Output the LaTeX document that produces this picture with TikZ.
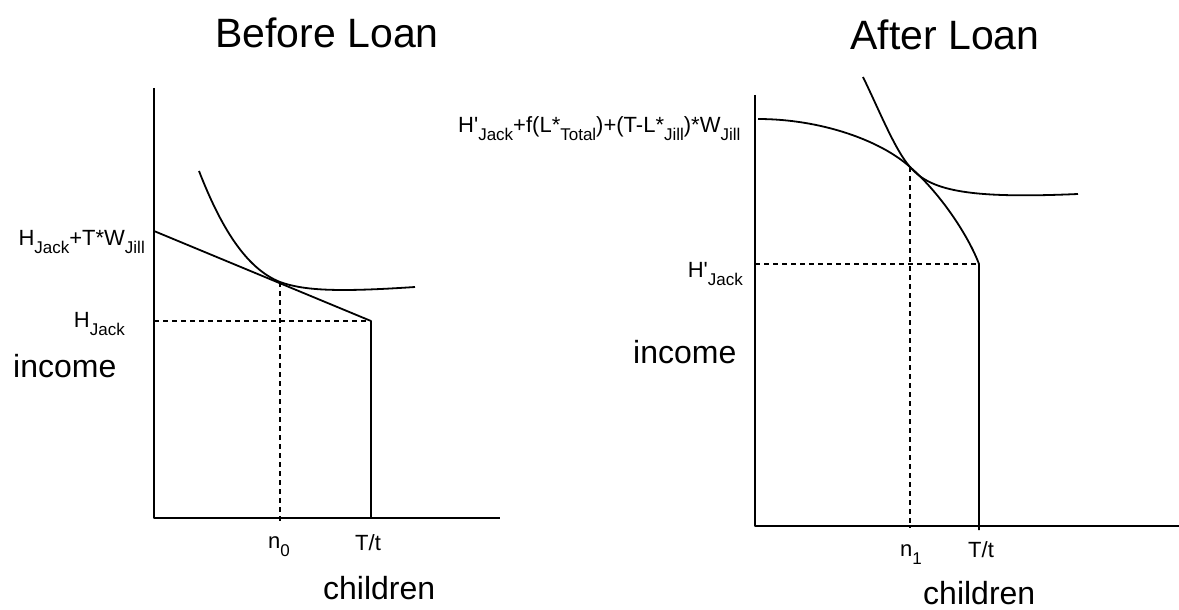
\documentclass[tikz,border=0pt]{standalone}
\usepackage{fontspec}
\setmainfont{Liberation Sans}[Ligatures=TeXOff]
\newcommand\lsub[2][17]{\raisebox{-0.38em}{\fontsize{#1}{#1}\selectfont #2}}
\tikzset{
  ln/.style={line width=1.8pt, line join=round},
  dsh/.style={line width=1.5pt, dash pattern=on 5pt off 4pt},
  title/.style={inner sep=0pt, font=\fontsize{41}{44}\selectfont},
  big/.style={inner sep=0pt, font=\fontsize{32}{36}\selectfont},
  lab/.style={inner sep=0pt, font=\fontsize{22}{25}\selectfont},
  tick/.style={inner sep=0pt, font=\fontsize{22}{25}\selectfont},
}
\begin{document}
\begin{tikzpicture}[x=1pt,y=-1pt]
\useasboundingbox (0,0) rectangle (1179,610);
% ---------- Before Loan ----------
\node[title, anchor=base] (t1) at (327,48) {Before Loan};
\coordinate (ytop1) at (154,88);
\coordinate (o1) at (154,518);
\coordinate (xend1) at (500,518);
\coordinate (b1) at (154,231);
\coordinate (k1) at (371,321);
\coordinate (k1a) at (154,321);
\coordinate (k1b) at (371,518);
\coordinate (p1) at (280,282);
\coordinate (p1b) at (280,524);
\draw[ln] (ytop1) -- (o1) -- (xend1);
\draw[ln] (b1) -- (k1) -- (k1b);
\draw[dsh] (k1a) -- (k1);
\draw[dsh] (p1) -- (p1b);
\draw[ln] (199,171) .. controls (220,225) and (245,268) .. (p1)
          .. controls (305,291) and (340,292) .. (415,287);
\node[lab, anchor=base east] (l1) at (145,245) {H\lsub{Jack}+T*W\lsub{Jill}};
\node[lab, anchor=base east] (l2) at (125,327) {H\lsub{Jack}};
\node[big, anchor=base west] (inc1) at (13,377) {income};
\node[tick, anchor=base west] (n0) at (268,548) {n\lsub{0}};
\node[tick, anchor=base west] (tt1) at (355,550) {T/t};
\node[big, anchor=base west] (ch1) at (323,599) {children};
% ---------- After Loan ----------
\node[title, anchor=base] (t2) at (945,50) {After Loan};
\coordinate (ytop2) at (755,95);
\coordinate (o2) at (755,526);
\coordinate (xend2) at (1179,526);
\coordinate (k2) at (979,264);
\coordinate (k2a) at (755,264);
\coordinate (k2b) at (979,530);
\coordinate (p2) at (910,167);
\coordinate (p2b) at (910,528);
\draw[ln] (ytop2) -- (o2) -- (xend2);
\draw[ln] (758,119) .. controls (820,119) and (880,140) .. (p2)
          .. controls (940,193) and (968,235) .. (k2) -- (k2b);
\draw[ln] (863,77) .. controls (880,112) and (895,150) .. (p2)
          .. controls (930,190) and (965,199) .. (1078,194);
\draw[dsh] (k2a) -- (k2);
\draw[dsh] (p2) -- (p2b);
\node[lab, anchor=base west] (l3) at (458,132) {H'\lsub{Jack}+f(L*\lsub{Total})+(T-L*\lsub{Jill})*W\lsub{Jill}};
\node[lab, anchor=base east] (l4) at (743,277) {H'\lsub{Jack}};
\node[big, anchor=base west] (inc2) at (633,363) {income};
\node[tick, anchor=base west] (n1) at (900,556) {n\lsub{1}};
\node[tick, anchor=base west] (tt2) at (968,557) {T/t};
\node[big, anchor=base west] (ch2) at (923,604) {children};
\end{tikzpicture}
\end{document}
